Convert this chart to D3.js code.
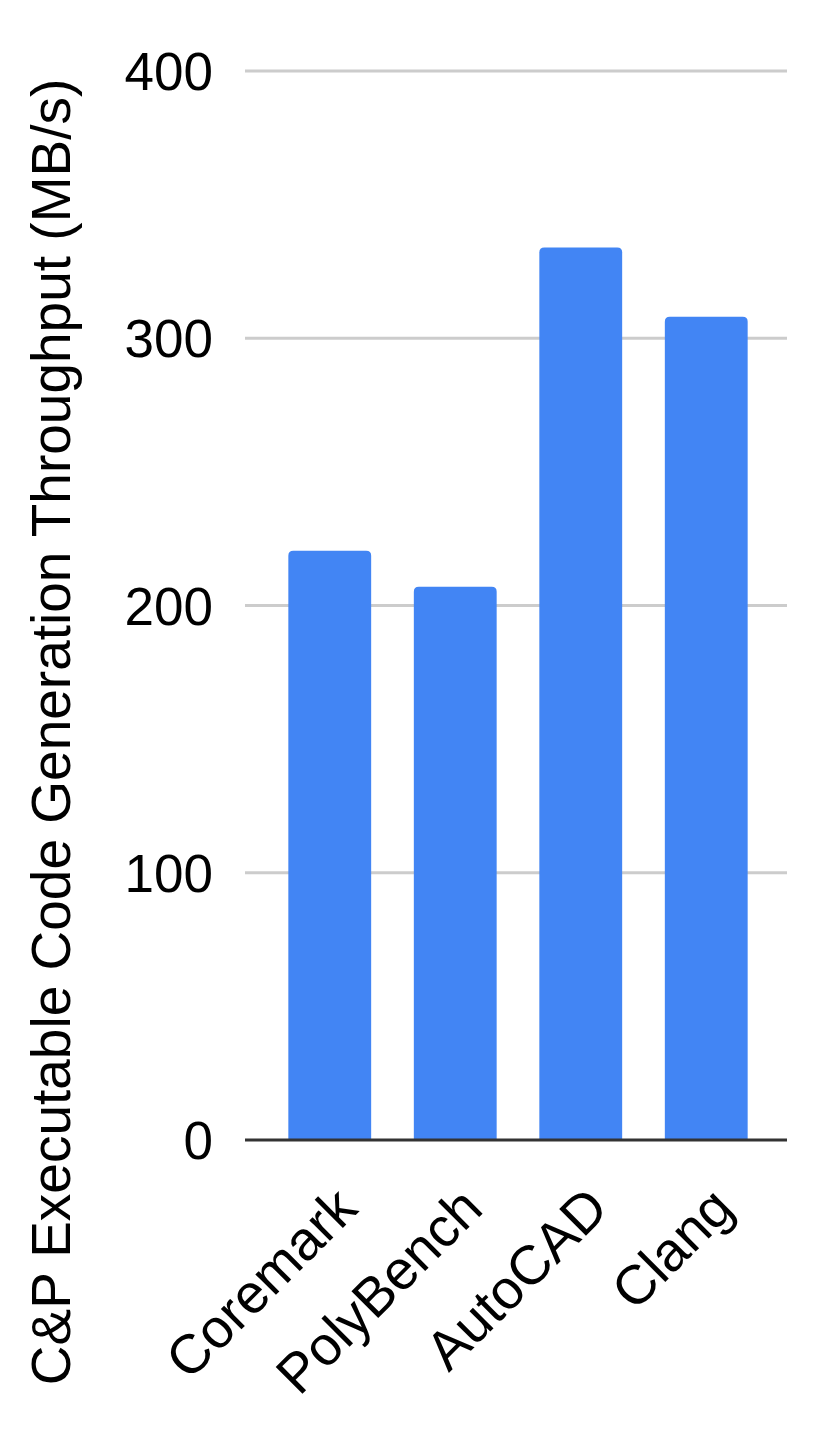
<!DOCTYPE html>
<html>

<head>
    <meta charset="utf-8">
    <title>C&amp;P Executable Code Generation Throughput</title>
    <script type="text/javascript" src="https://d3js.org/d3.v7.min.js"></script>

    <style>
        body {
            margin: 0;
            background: #fff;
        }

        svg {
            display: block;
        }

        text {
            font-family: "Liberation Sans", Arial, sans-serif;
            fill: #000;
        }
    </style>

</head>

<body>
</body>

<script type="text/javascript">
    //Width and height
    var w = 830;
    var h = 1450;

    //Data
    var categories = ["Coremark", "PolyBench", "AutoCAD", "Clang"];
    var throughput = [220.5, 207, 334, 308];
    var yTicks = [0, 100, 200, 300, 400];
    var yTitle = "C&P Executable Code Generation Throughput (MB/s)";

    //Plot area
    var plotLeft = 245,
        plotRight = 787,
        plotTop = 71,
        plotBottom = 1140;

    var x = d3.scaleBand()
        .domain(categories)
        .range([267, 769])
        .paddingInner(0.34)
        .paddingOuter(0.17);

    var y = d3.scaleLinear()
        .domain([0, 400])
        .range([plotBottom, plotTop]);

    var svg = d3.select("body")
        .append("svg")
        .attr("width", w)
        .attr("height", h);

    //Gridlines
    svg.selectAll("line.grid")
        .data(yTicks.filter(function(d) { return d > 0; }))
        .enter()
        .append("line")
        .attr("class", "grid")
        .attr("x1", plotLeft)
        .attr("x2", plotRight)
        .attr("y1", function(d) { return y(d); })
        .attr("y2", function(d) { return y(d); })
        .style("stroke", "#cccccc")
        .style("stroke-width", 3);

    //Tick labels
    svg.selectAll("text.ytick")
        .data(yTicks)
        .enter()
        .append("text")
        .attr("class", "ytick")
        .attr("x", 213)
        .attr("y", function(d) { return y(d); })
        .attr("dy", "0.36em")
        .attr("text-anchor", "end")
        .style("font-size", "53px")
        .text(function(d) { return d; });

    //Bars with rounded top corners
    var r = 5;
    function barPath(d, i) {
        var x0 = x(categories[i]),
            x1 = x0 + x.bandwidth(),
            y0 = y(d),
            y1 = y(0);
        return "M" + x0 + "," + y1 +
            "L" + x0 + "," + (y0 + r) +
            "Q" + x0 + "," + y0 + " " + (x0 + r) + "," + y0 +
            "L" + (x1 - r) + "," + y0 +
            "Q" + x1 + "," + y0 + " " + x1 + "," + (y0 + r) +
            "L" + x1 + "," + y1 + "Z";
    }

    svg.selectAll("path.bar")
        .data(throughput)
        .enter()
        .append("path")
        .attr("class", "bar")
        .attr("d", barPath)
        .style("fill", "#4285f4");

    //Baseline
    svg.append("line")
        .attr("x1", plotLeft)
        .attr("x2", plotRight)
        .attr("y1", y(0))
        .attr("y2", y(0))
        .style("stroke", "#333333")
        .style("stroke-width", 3);

    //Category labels, rotated
    svg.selectAll("text.xlab")
        .data(categories)
        .enter()
        .append("text")
        .attr("class", "xlab")
        .attr("transform", function(d) {
            return "translate(" + (x(d) + x.bandwidth() / 2 + 30) + "," + 1211 + ") rotate(-45)";
        })
        .attr("text-anchor", "end")
        .style("font-size", "55px")
        .text(function(d) { return d; });

    //Y axis title
    svg.append("text")
        .attr("transform", "translate(70," + 732 + ") rotate(-90)")
        .attr("text-anchor", "middle")
        .style("font-size", "55px")
        .text(yTitle);
</script>

</html>
